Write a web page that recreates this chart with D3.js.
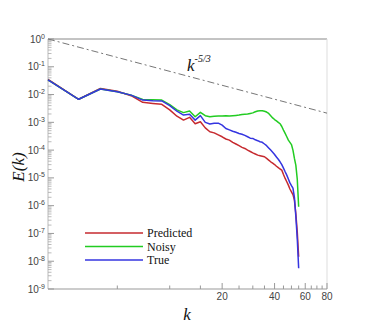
<!DOCTYPE html>
<html><head><meta charset="utf-8">
<script src="https://cdn.jsdelivr.net/npm/d3@7/dist/d3.min.js"></script>
<style>body{margin:0;background:#fff;}svg{display:block;}</style>
</head><body>
<svg id="c" width="366" height="325"></svg>
<script>
const k = d3.range(2, 56);
const predicted = [-1.45,-2.17,-1.78,-1.88,-2.04,-2.28,-2.32,-2.35,-2.55,-2.78,-2.92,-2.82,-3.05,-2.98,-3.20,-3.34,-3.38,-3.45,-3.52,-3.60,-3.64,-3.72,-3.78,-3.84,-3.90,-3.94,-4.00,-4.05,-4.10,-4.14,-4.18,-4.20,-4.22,-4.24,-4.30,-4.36,-4.42,-4.47,-4.52,-4.58,-4.63,-4.68,-4.72,-4.88,-5.02,-5.14,-5.26,-5.40,-5.50,-5.60,-5.80,-6.30,-6.95,-7.84];
const noisy = [-1.47,-2.17,-1.80,-1.90,-2.02,-2.18,-2.19,-2.20,-2.36,-2.55,-2.65,-2.59,-2.80,-2.64,-2.76,-2.80,-2.78,-2.77,-2.77,-2.76,-2.77,-2.76,-2.75,-2.74,-2.72,-2.71,-2.70,-2.68,-2.66,-2.62,-2.59,-2.58,-2.58,-2.60,-2.63,-2.68,-2.76,-2.84,-2.90,-2.95,-3.00,-3.05,-3.15,-3.28,-3.40,-3.52,-3.64,-3.72,-3.80,-4.00,-4.30,-4.55,-5.05,-6.04];
const trueE = [-1.47,-2.17,-1.80,-1.90,-2.02,-2.20,-2.22,-2.23,-2.40,-2.60,-2.74,-2.71,-2.92,-2.76,-3.00,-3.06,-3.03,-3.03,-3.10,-3.22,-3.27,-3.32,-3.36,-3.40,-3.43,-3.47,-3.52,-3.57,-3.58,-3.63,-3.66,-3.70,-3.72,-3.78,-3.84,-3.92,-4.00,-4.08,-4.16,-4.25,-4.33,-4.42,-4.52,-4.65,-4.78,-4.90,-5.04,-5.18,-5.28,-5.37,-5.70,-6.40,-7.20,-8.25];
const refK = [2, 80];
const refE = [1, 2.14e-3];
const xTicks = [5,10,15,20,25,30,35,40,45,50,55,60,65,70,75,80];
const xLabels = [20,40,60,80];
const yExponents = [0,-1,-2,-3,-4,-5,-6,-7,-8,-9];
const seriesNames = ["Predicted","Noisy","True"];
const seriesColors = ["#c62a2f","#22cc22","#3535e0"];

const SERIF = "'Liberation Serif', 'Times New Roman', 'DejaVu Serif', serif";
const SANS = "'Liberation Sans', Arial, sans-serif";
const svg = d3.select("#c");
const x = d3.scaleLog().domain([2,80]).range([48,327]);
const y = d3.scaleLog().domain([1e-9,1]).range([289,39]);

// frame
svg.append("line").attr("x1",48).attr("x2",327).attr("y1",39).attr("y2",39).attr("stroke","#888").attr("stroke-width",1);
svg.append("line").attr("x1",327).attr("x2",327).attr("y1",39).attr("y2",289).attr("stroke","#ddd").attr("stroke-width",1);
svg.append("line").attr("x1",48).attr("x2",48).attr("y1",39).attr("y2",289).attr("stroke","#bbb").attr("stroke-width",1);
svg.append("line").attr("x1",48).attr("x2",327).attr("y1",289).attr("y2",289).attr("stroke","#999").attr("stroke-width",1);

// y ticks
yExponents.forEach(e => {
  const yy = y(Math.pow(10,e));
  svg.append("line").attr("x1",48).attr("x2",54).attr("y1",yy).attr("y2",yy).attr("stroke","#999");
  if (e > -9) {
    for (let m=2;m<=9;m++){
      const ym = y(m*Math.pow(10,e-1));
      svg.append("line").attr("x1",48).attr("x2",51.5).attr("y1",ym).attr("y2",ym).attr("stroke","#aaa").attr("stroke-width",0.8);
    }
  }
  const t = svg.append("text").attr("x",45).attr("y",yy+3.5).attr("text-anchor","end")
    .attr("font-family",SANS).attr("font-size",10).attr("fill","#444");
  t.append("tspan").text("10");
  t.append("tspan").attr("dy",-4).attr("font-size",7).text(String(e));
});

// x ticks
xTicks.forEach(v => {
  const xx = x(v);
  const major = xLabels.includes(v);
  svg.append("line").attr("x1",xx).attr("x2",xx).attr("y1",289).attr("y2",major?283:285.5).attr("stroke","#999");
  if (major) svg.append("text").attr("x",xx).attr("y",300).attr("text-anchor","middle")
    .attr("font-family",SANS).attr("font-size",10).attr("fill","#444").text(v);
});

// reference line
svg.append("path").attr("d", d3.line().x((d,i)=>x(refK[i])).y(d=>y(d))(refE))
  .attr("fill","none").attr("stroke","#777").attr("stroke-width",1).attr("stroke-dasharray","7,3,2,3");

// series
const line = d3.line().x((d,i)=>x(k[i])).y(d=>y(Math.pow(10,d)));
[predicted, noisy, trueE].forEach((s,i)=>{
  svg.append("path").attr("d",line(s)).attr("fill","none").attr("stroke",seriesColors[i]).attr("stroke-width",1.5).attr("stroke-linejoin","round");
});

// labels
const lab = svg.append("text").attr("x",187).attr("y",71).attr("font-family",SERIF).attr("fill","#111");
lab.append("tspan").attr("font-style","italic").attr("font-size",17).text("k");
lab.append("tspan").attr("font-style","italic").attr("font-size",10).attr("dy",-9).text("-5/3");

svg.append("text").attr("x",187).attr("y",320).attr("text-anchor","middle").attr("font-family",SERIF)
  .attr("font-style","italic").attr("font-size",17).attr("fill","#111").text("k");
svg.append("text").attr("transform","translate(24,167) rotate(-90)").attr("text-anchor","middle").attr("font-family",SERIF)
  .attr("font-style","italic").attr("font-size",17).attr("fill","#111").text("E(k)");

// legend
seriesNames.forEach((n,i)=>{
  const ly = 233 + i*13.5;
  svg.append("line").attr("x1",85).attr("x2",143).attr("y1",ly).attr("y2",ly).attr("stroke",seriesColors[i]).attr("stroke-width",1.5);
  svg.append("text").attr("x",147).attr("y",ly+4).attr("font-family",SERIF).attr("font-size",12).attr("fill","#111").text(n);
});
</script>
</body></html>
